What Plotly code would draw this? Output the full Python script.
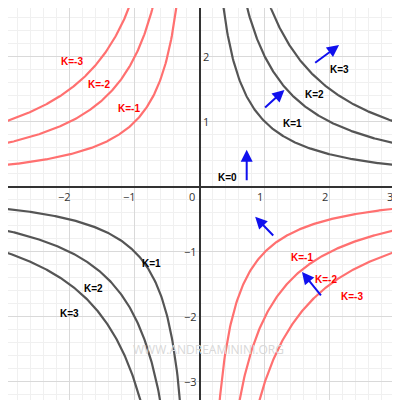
import numpy as np
import plotly.graph_objects as go

pos_k = [1, 2, 3]
neg_k = [-1, -2, -3]
x_right = np.linspace(0.05, 3.3, 300)
x_left = -x_right[::-1]

labels = [
    ("K=0", 0.42, 0.15, "black"), ("K=1", 1.42, 0.97, "black"), ("K=2", 1.77, 1.42, "black"),
    ("K=3", 2.15, 1.8, "black"), ("K=-3", -1.97, 1.92, "red"), ("K=-2", -1.55, 1.57, "red"),
    ("K=-1", -1.09, 1.2, "red"), ("K=1", -0.74, -1.18, "black"), ("K=2", -1.63, -1.57, "black"),
    ("K=3", -2.0, -1.95, "black"), ("K=-1", 1.57, -1.08, "red"), ("K=-2", 1.94, -1.42, "red"),
    ("K=-3", 2.34, -1.69, "red"),
]
arrows = [
    (0.72, 0.08, 0.72, 0.57), (0.98, 1.2, 1.3, 1.49), (1.75, 1.89, 2.14, 2.18),
    (1.15, -0.77, 0.85, -0.46), (1.88, -1.69, 1.57, -1.31),
]
x_ticks = [-3, -2, -1, 0, 1, 2, 3]
y_ticks = [-3, -2, -1, 1, 2]

fig = go.Figure()
for k in pos_k:
    for xs in (x_left, x_right):
        fig.add_trace(go.Scatter(x=xs, y=k / xs, mode="lines", line=dict(color="#555555", width=2.2)))
for k in neg_k:
    for xs in (x_left, x_right):
        fig.add_trace(go.Scatter(x=xs, y=k / xs, mode="lines", line=dict(color="#ff7070", width=2.2)))

for t, x, y, c in labels:
    fig.add_annotation(x=x, y=y, text="<b>%s</b>" % t, showarrow=False,
                       font=dict(size=10, color=c, family="Arial"))
for x0, y0, x1, y1 in arrows:
    fig.add_annotation(x=x1, y=y1, ax=x0, ay=y0, xref="x", yref="y", axref="x", ayref="y",
                       text="", showarrow=True, arrowhead=2, arrowsize=1.2, arrowwidth=2,
                       arrowcolor="#1010ee")
for t in x_ticks:
    fig.add_annotation(x=t - 0.08 if t != 0 else -0.12, y=-0.15, text=str(t).replace("-", "−"),
                       showarrow=False, font=dict(size=11, color="#333"))
for t in y_ticks:
    fig.add_annotation(x=0.1 if t > 0 else -0.15, y=t, text=str(t).replace("-", "−"),
                       showarrow=False, font=dict(size=11, color="#333"))
fig.add_annotation(x=0.5, y=0.12, xref="paper", yref="paper", text="WWW.ANDREAMININI.ORG",
                   showarrow=False, font=dict(size=12, color="#d8d8d8"))

grid = dict(showgrid=True, gridcolor="#d9d9d9", dtick=1, zeroline=True, zerolinecolor="#333",
            zerolinewidth=1.5, showticklabels=False, ticks="",
            minor=dict(dtick=0.2, showgrid=True, gridcolor="#f0f0f0"))
fig.update_layout(width=400, height=400, margin=dict(l=0, r=0, t=0, b=0), showlegend=False,
                  plot_bgcolor="white", paper_bgcolor="white",
                  xaxis=dict(range=[-2.95, 3.2], **grid),
                  yaxis=dict(range=[-3.4, 2.75], **grid))
fig.write_html("out.html")
